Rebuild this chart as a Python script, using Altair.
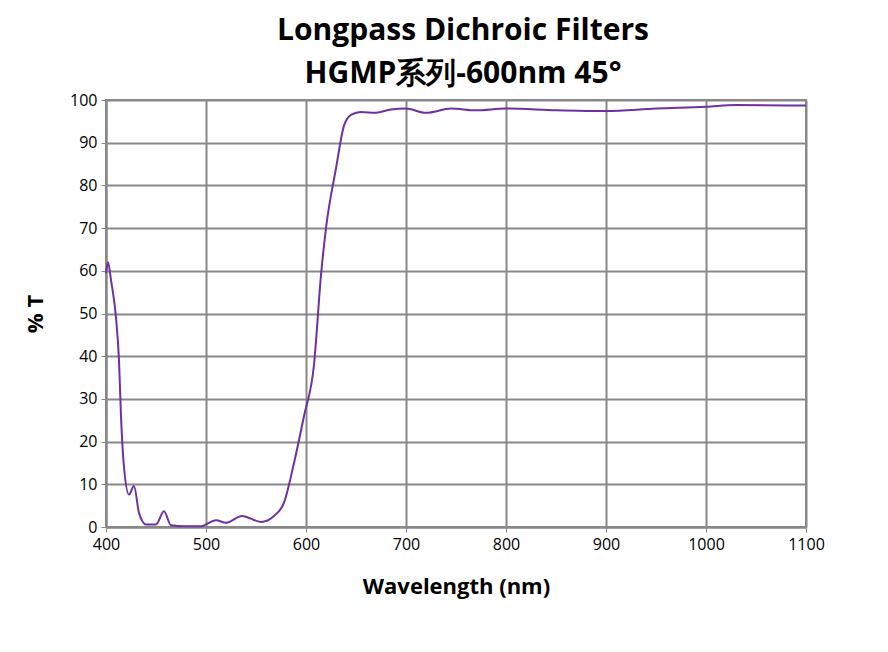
import altair as alt
import pandas as pd

wavelength = [400, 402, 405, 410, 413, 415, 418, 423, 428, 433, 440, 450, 458, 465, 478, 495,
              510, 520, 536, 555, 568, 578, 588, 598, 608, 615, 620, 630, 638, 645, 655, 670,
              685, 700, 720, 745, 770, 800, 850, 900, 950, 1000, 1030, 1100]
transmission = [59.4, 62, 57.8, 49, 39, 26, 14, 7.6, 9.6, 3.3, 0.6, 0.6, 3.7, 0.4, 0.2, 0.2,
                1.6, 1.0, 2.6, 1.2, 2.6, 5.7, 15, 26, 38, 59, 70, 84, 94, 96.5, 97.2, 97,
                97.8, 98, 97, 98, 97.6, 98, 97.6, 97.4, 98, 98.4, 98.8, 98.7]
title_lines = ["Longpass Dichroic Filters", "HGMP系列-600nm 45°"]

df = pd.DataFrame({"wl": wavelength, "t": transmission})
one = pd.DataFrame({"k": [0]})

font = "Open Sans"
line = alt.Chart(df).mark_line(color="#7030a0", strokeWidth=2, interpolate="monotone").encode(
    x=alt.X("wl:Q", scale=alt.Scale(domain=[400, 1100], nice=False),
            axis=alt.Axis(values=list(range(400, 1101, 100)), format="d", labelFlush=False,
                          title="Wavelength (nm)")),
    y=alt.Y("t:Q", scale=alt.Scale(domain=[0, 100], nice=False),
            axis=alt.Axis(values=list(range(0, 101, 10)), format="d", labelFlush=False,
                          title="% T")),
)

# outer frame drawn as four rules
frame = [
    alt.Chart(one).mark_rule(color="#888888", strokeWidth=1).encode(
        x=alt.value(x1), x2=alt.value(x2), y=alt.value(y1), y2=alt.value(y2))
    for x1, x2, y1, y2 in [(-105, 781, -99, -99), (-105, 781, 550, 550),
                           (-105, -105, -99, 550), (781, 781, -99, 550)]
]

titles = [
    alt.Chart(one).mark_text(text=txt, font=font, fontSize=30, fontWeight="bold",
                             color="black", align="center", baseline="middle").encode(
        x=alt.value(357), y=alt.value(yy))
    for txt, yy in zip(title_lines, [-69, -26])
]

chart = alt.layer(*frame, line, *titles).properties(
    width=700, height=427,
    autosize=alt.AutoSizeParams(type="none"),
    padding={"left": 98, "top": 92, "right": 74, "bottom": 117},
    background="white",
).configure_view(stroke="#888888", strokeWidth=2).configure_axis(
    gridColor="#888888", gridWidth=2, domainColor="#888888", domainWidth=2,
    tickColor="#888888", tickSize=5, labelFont=font, labelFontSize=16, labelColor="black",
    titleFont=font, titleFontSize=22, titleFontWeight="bold", titleColor="black", labelPadding=4,
).configure_axisX(titlePadding=24).configure_axisY(titlePadding=22)

chart.save("out.html", embed_options={"renderer": "svg", "actions": False})
